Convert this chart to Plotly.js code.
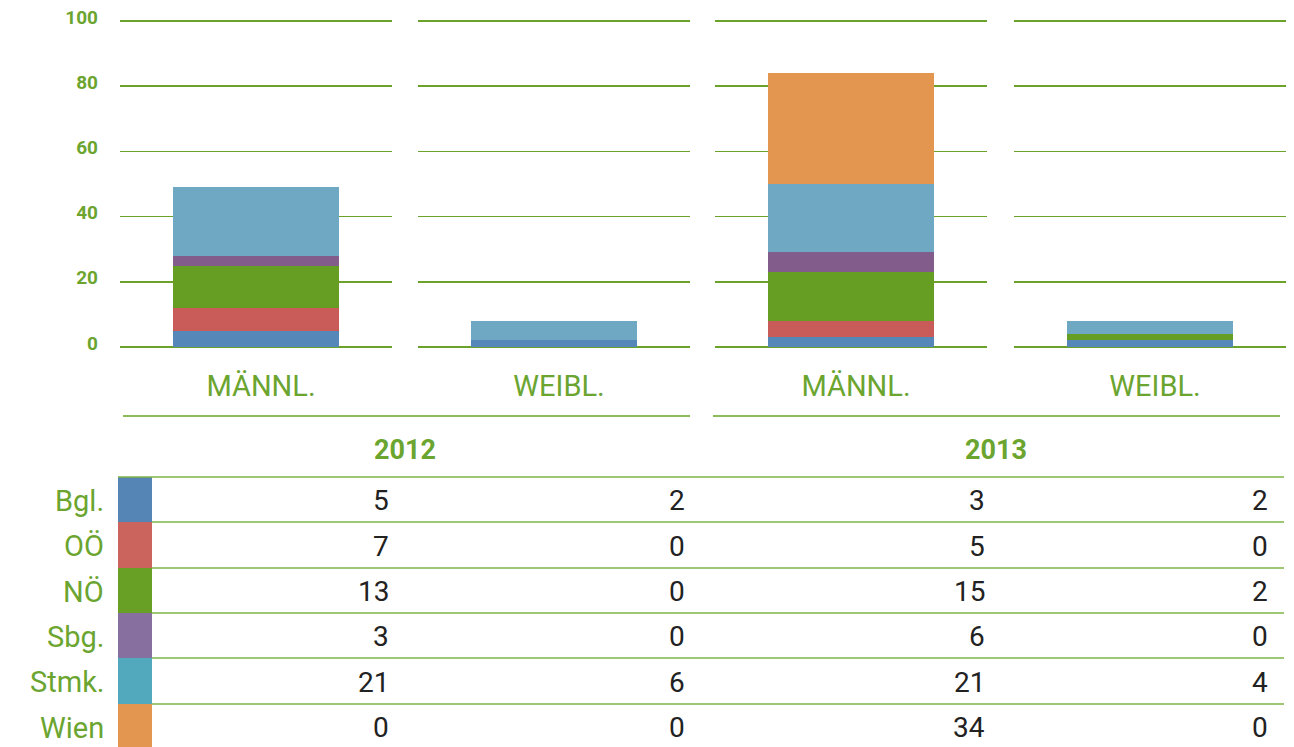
<!DOCTYPE html>
<html>
<head>
<meta charset="utf-8">
<script src="https://cdn.plot.ly/plotly-3.0.1.min.js"></script>
<style>html,body{margin:0;padding:0;background:#fff;}#chart{width:1294px;height:747px;}</style>
</head>
<body>
<div id="chart"></div>
<script>
// ---- data ----
const regions = ['Bgl.', 'OÖ', 'NÖ', 'Sbg.', 'Stmk.', 'Wien'];
const years = ['2012', '2013'];
const genders = ['MÄNNL.', 'WEIBL.'];
const maenn2012 = [5, 7, 13, 3, 21, 0];
const weibl2012 = [2, 0, 0, 0, 6, 0];
const maenn2013 = [3, 5, 15, 6, 21, 34];
const weibl2013 = [2, 0, 2, 0, 4, 0];
const yTicks = [0, 20, 40, 60, 80, 100];

// ---- styling ----
const W = 1294, H = 747;
const px = x => x / W;
const py = y => 1 - y / H;
const GREEN = '#6aa22a';
const LABEL_GREEN = '#6ba530';
const barColors = ['#5587b9', '#c95b58', '#669e24', '#825d8c', '#6fa8c3', '#e2964f'];
const swatchColors = ['#5585b5', '#cc645e', '#67a024', '#87709f', '#52a9be', '#e2964f'];
const FONT = 'Roboto, "DejaVu Sans", sans-serif';

const groups = [
  {vals: maenn2012, cat: genders[0], ax: 'x',  dom: [120, 392], col: 389},
  {vals: weibl2012, cat: genders[1], ax: 'x2', dom: [418, 690], col: 685},
  {vals: maenn2013, cat: genders[0], ax: 'x3', dom: [715, 987], col: 985},
  {vals: weibl2013, cat: genders[1], ax: 'x4', dom: [1014, 1286], col: 1268}
];

const traces = [];
groups.forEach(g => {
  regions.forEach((r, i) => {
    traces.push({
      type: 'bar', x: [g.cat], y: [g.vals[i]], name: r,
      xaxis: g.ax, yaxis: 'y', width: 0.61,
      marker: {color: barColors[i], line: {width: 0}},
      showlegend: false, hoverinfo: 'name+y'
    });
  });
});

// y: 0 at 347px, 100 at 21px -> 3.26 px per unit; extend range to 102 so the top gridline is visible
const pxPerUnit = (347 - 21) / 100;
const layout = {
  width: W, height: H,
  margin: {l: 0, r: 0, t: 0, b: 0},
  paper_bgcolor: '#fff', plot_bgcolor: 'rgba(0,0,0,0)',
  barmode: 'stack', showlegend: false,
  font: {family: FONT},
  yaxis: {
    domain: [py(347), py(21 - 2 * pxPerUnit)], range: [0, 102], tickvals: yTicks, anchor: 'x',
    showgrid: true, gridcolor: GREEN, gridwidth: 1.5,
    zeroline: true, zerolinecolor: GREEN, zerolinewidth: 1.5,
    showline: false, ticks: '', ticklabelstandoff: 21, ticklabelshift: -4,
    tickfont: {family: FONT, size: 19, color: LABEL_GREEN, weight: 700}
  },
  annotations: [],
  shapes: []
};

groups.forEach((g, k) => {
  const key = k === 0 ? 'xaxis' : 'xaxis' + (k + 1);
  layout[key] = {
    domain: [px(g.dom[0]), px(g.dom[1])], anchor: 'y', type: 'category',
    range: [-0.5, 0.5], showgrid: false, zeroline: false, showline: false,
    ticks: '', ticklabelstandoff: 19, ticklabelshift: 5,
    tickfont: {family: FONT, size: 29, color: LABEL_GREEN}
  };
});

// separator lines under category labels
[[123, 690], [713, 1280]].forEach(([a, b]) => {
  layout.shapes.push({type: 'line', xref: 'paper', yref: 'paper',
    x0: px(a), x1: px(b), y0: py(416), y1: py(416),
    line: {color: '#8cbb5a', width: 2}});
});

// year labels
[[405, years[0]], [996, years[1]]].forEach(([x, t]) => {
  layout.annotations.push({xref: 'paper', yref: 'paper', x: px(x), y: py(450),
    text: t, showarrow: false, xanchor: 'center', yanchor: 'middle',
    font: {family: FONT, size: 27, color: LABEL_GREEN, weight: 700}});
});

// table
const rowTops = [477, 522, 568, 613, 658, 704, 749];
layout.shapes.push({type: 'line', xref: 'paper', yref: 'paper',
  x0: px(118), x1: px(1284), y0: py(477), y1: py(477),
  line: {color: '#7db446', width: 1.5}});
regions.forEach((r, i) => {
  const top = rowTops[i], bot = rowTops[i + 1], mid = (top + bot) / 2;
  layout.shapes.push({type: 'rect', xref: 'paper', yref: 'paper',
    x0: px(118), x1: px(152), y0: py(bot), y1: py(top),
    fillcolor: swatchColors[i], line: {width: 0}, layer: 'below'});
  if (i > 0) {
    layout.shapes.push({type: 'line', xref: 'paper', yref: 'paper',
      x0: px(152), x1: px(1284), y0: py(top), y1: py(top),
      line: {color: '#7db446', width: 1.5}});
  }
  layout.annotations.push({xref: 'paper', yref: 'paper', x: px(106), y: py(mid + 1),
    text: r, showarrow: false, xanchor: 'right', yanchor: 'middle',
    font: {family: FONT, size: 29, color: LABEL_GREEN}});
  groups.forEach(g => {
    layout.annotations.push({xref: 'paper', yref: 'paper', x: px(g.col + 2), y: py(mid + 1),
      text: String(g.vals[i]), showarrow: false, xanchor: 'right', yanchor: 'middle',
      font: {family: FONT, size: 28, color: '#222'}});
  });
});

Plotly.newPlot('chart', traces, layout, {displayModeBar: false, staticPlot: true});
</script>
</body>
</html>
